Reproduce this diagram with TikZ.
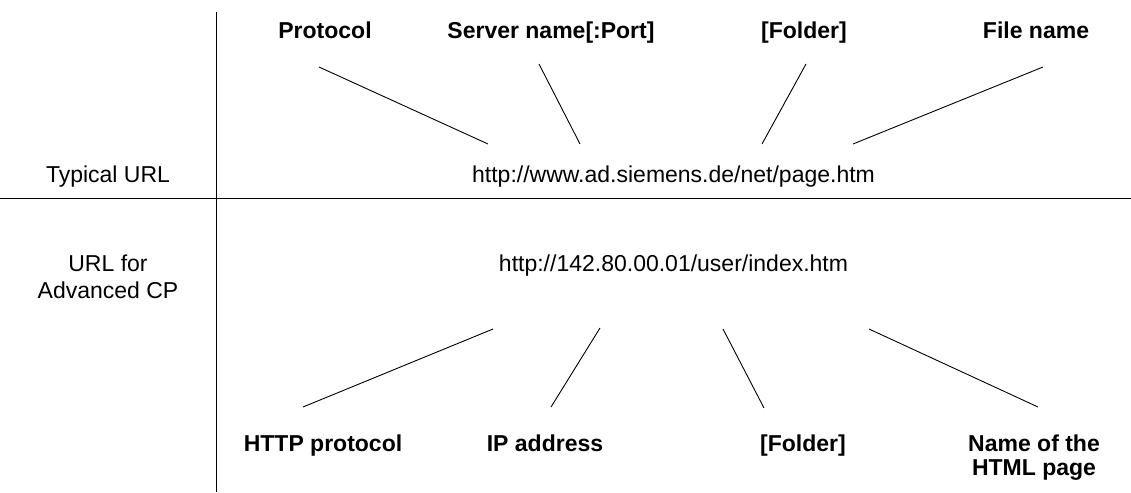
\documentclass[tikz,border=0pt]{standalone}
\usepackage{fontspec}
\setmainfont{Liberation Sans}
\begin{document}
\begin{tikzpicture}[x=1pt,y=-1pt,
  lbl/.style={font=\fontsize{23}{24}\selectfont\bfseries, inner sep=0pt, anchor=base, align=center},
  txt/.style={font=\fontsize{23}{24}\selectfont, inner sep=0pt, anchor=base, align=center},
  rule/.style={line width=1pt, black},
  conn/.style={line width=0.9pt, black}]
\useasboundingbox (0,0) rectangle (1131,492);
% frame rules
\coordinate (vtop) at (216,12);
\coordinate (vbot) at (216,492);
\coordinate (hl) at (0,198);
\coordinate (hr) at (1131,198);
\draw[rule] (vtop) -- (vbot);
\draw[rule] (hl) -- (hr);
% row titles (base anchor of a two-line node = baseline of its last line)
\node[txt] (typ) at (108,182) {Typical URL};
\node[txt, font=\fontsize{23}{27}\selectfont] (adv) at (108,298) {URL for\\Advanced CP};
% URLs
\node[txt] (url1) at (673.5,182) {http://www.ad.siemens.de/net/page.htm};
\node[txt] (url2) at (673.5,271) {http://142.80.00.01/user/index.htm};
% top labels
\node[lbl] (proto) at (325,39) {Protocol};
\node[lbl] (server) at (551,39) {Server name[:Port]};
\node[lbl] (folder1) at (804,39) {[Folder]};
\node[lbl] (file) at (1036,39) {File name};
% bottom labels
\node[lbl] (http) at (323,451) {HTTP protocol};
\node[lbl] (ip) at (545,451) {IP address};
\node[lbl] (folder2) at (803,451) {[Folder]};
\node[lbl] (page) at (1034,475) {Name of the\\HTML page};
% connector ends
\coordinate (p1) at (319,67);   \coordinate (p2) at (488,144);
\coordinate (s1) at (539,64);   \coordinate (s2) at (580,144);
\coordinate (f1) at (806,64);   \coordinate (f2) at (762,144);
\coordinate (n1) at (1043,67);  \coordinate (n2) at (853,144);
\coordinate (h1) at (303,407);  \coordinate (h2) at (493,329);
\coordinate (i1) at (551,407);  \coordinate (i2) at (600,328);
\coordinate (g1) at (764,408);  \coordinate (g2) at (723,329);
\coordinate (m1) at (1038,407); \coordinate (m2) at (869,329);
\draw[conn] (p1) -- (p2);
\draw[conn] (s1) -- (s2);
\draw[conn] (f1) -- (f2);
\draw[conn] (n1) -- (n2);
\draw[conn] (h1) -- (h2);
\draw[conn] (i1) -- (i2);
\draw[conn] (g1) -- (g2);
\draw[conn] (m1) -- (m2);
\end{tikzpicture}
\end{document}
